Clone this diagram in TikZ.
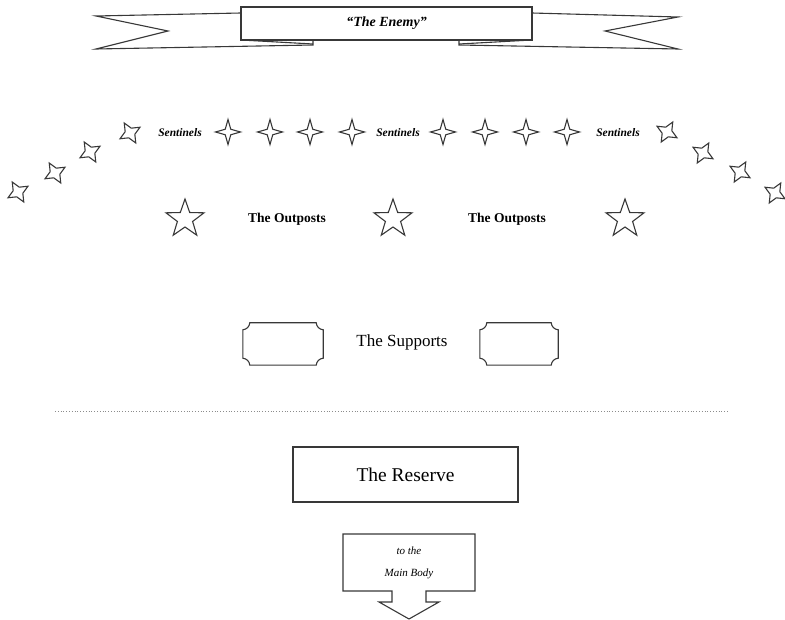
\documentclass[tikz,border=0pt]{standalone}
\usepackage{fontspec}
\setmainfont{Liberation Serif}
\usetikzlibrary{shapes.geometric,calc}
\begin{document}
\begin{tikzpicture}[x=1pt,y=-1pt,
  ln/.style={draw=black!78,line width=1.1pt},
  sstar/.style={ln,star,star points=4,star point ratio=3.2,minimum size=25pt,inner sep=0pt},
  tstar/.style={ln,star,star points=4,star point ratio=2.3,minimum size=23pt,inner sep=0pt},
  ostar/.style={ln,star,star points=5,star point ratio=2.5,minimum size=40pt,inner sep=0pt},
  senttxt/.style={font=\fontsize{11.5}{13}\selectfont\bfseries\itshape},
  outtxt/.style={font=\fontsize{13.5}{15}\selectfont\bfseries},
  suppbox/.style={rectangle,minimum width=80pt,minimum height=42pt,inner sep=0pt},
  ]
\useasboundingbox (0,0) rectangle (785,620);

% banner
\draw[ln,fill=white] (241,13) -- (96,16) -- (168,31) -- (96,49) -- (313,45) -- (313,40);
\draw[ln] (241,40) -- (313,44);
\draw[ln,fill=white] (532,13) -- (678,17) -- (605,31) -- (678,49) -- (459,45) -- (459,40);
\draw[ln] (532,40) -- (459,44);
\node[ln,fill=white,minimum width=291pt,minimum height=33pt,inner sep=0pt,
  font=\fontsize{14}{16}\selectfont\bfseries\itshape] (enemy) at (386.5,23.5) {``The Enemy''};

% sentinels
\node[tstar,rotate=30] (tl1) at (18,192) {};
\node[tstar,rotate=30] (tl2) at (55,173) {};
\node[tstar,rotate=30] (tl3) at (90,152) {};
\node[tstar,rotate=30] (tl4) at (130,133) {};
\node[senttxt] (sent1) at (180,133) {Sentinels};
\node[sstar] (s1) at (228,132) {};
\node[sstar] (s2) at (270,132) {};
\node[sstar] (s3) at (310,132) {};
\node[sstar] (s4) at (352,132) {};
\node[senttxt] (sent2) at (398,133) {Sentinels};
\node[sstar] (s5) at (443,132) {};
\node[sstar] (s6) at (485,132) {};
\node[sstar] (s7) at (526,132) {};
\node[sstar] (s8) at (567,132) {};
\node[senttxt] (sent3) at (618,133) {Sentinels};
\node[tstar,rotate=-30] (tr1) at (667,132) {};
\node[tstar,rotate=-30] (tr2) at (703,153) {};
\node[tstar,rotate=-30] (tr3) at (740,172) {};
\node[tstar,rotate=-30] (tr4) at (775,193) {};

% outposts
\node[ostar] (o1) at (185,219) {};
\node[outtxt] (ot1) at (287,219) {The Outposts};
\node[ostar] (o2) at (393,219) {};
\node[outtxt] (ot2) at (507,219) {The Outposts};
\node[ostar] (o3) at (625,219) {};

% supports
\node[suppbox] (sb1) at (283,344) {};
\node[suppbox,minimum width=78pt] (sb2) at (519,344) {};
\foreach \b in {sb1,sb2}{
  \draw[ln] ($(\b.north west)+(7,0)$) -- ($(\b.north east)+(-7,0)$)
    to[bend right=40] ($(\b.north east)+(0,7)$) -- ($(\b.south east)+(0,-7)$)
    to[bend right=40] ($(\b.south east)+(-7,0)$) -- ($(\b.south west)+(7,0)$)
    to[bend right=40] ($(\b.south west)+(0,-7)$) -- ($(\b.north west)+(0,7)$)
    to[bend right=40] cycle;
}
\node[font=\fontsize{17}{19}\selectfont] (supp) at (402,342) {The Supports};

% dotted line
\coordinate (dl) at (55,411);
\coordinate (dr) at (728,411);
\draw[black!45,line width=0.8pt,dotted] (dl) -- (dr);

% reserve
\node[ln,minimum width=225pt,minimum height=55pt,inner sep=0pt,
  font=\fontsize{19.5}{21}\selectfont] (res) at (405.5,474.5) {The Reserve};

% arrow to main body
\draw[ln] (343,534) -- (475,534) -- (475,591) -- (426,591) -- (426,602) -- (439,602)
  -- (409,619) -- (379,602) -- (392,602) -- (392,591) -- (343,591) -- cycle;
\node[align=center,font=\fontsize{11}{22}\selectfont\itshape] (main) at (409,563) {to the\\Main Body};
\end{tikzpicture}
\end{document}
